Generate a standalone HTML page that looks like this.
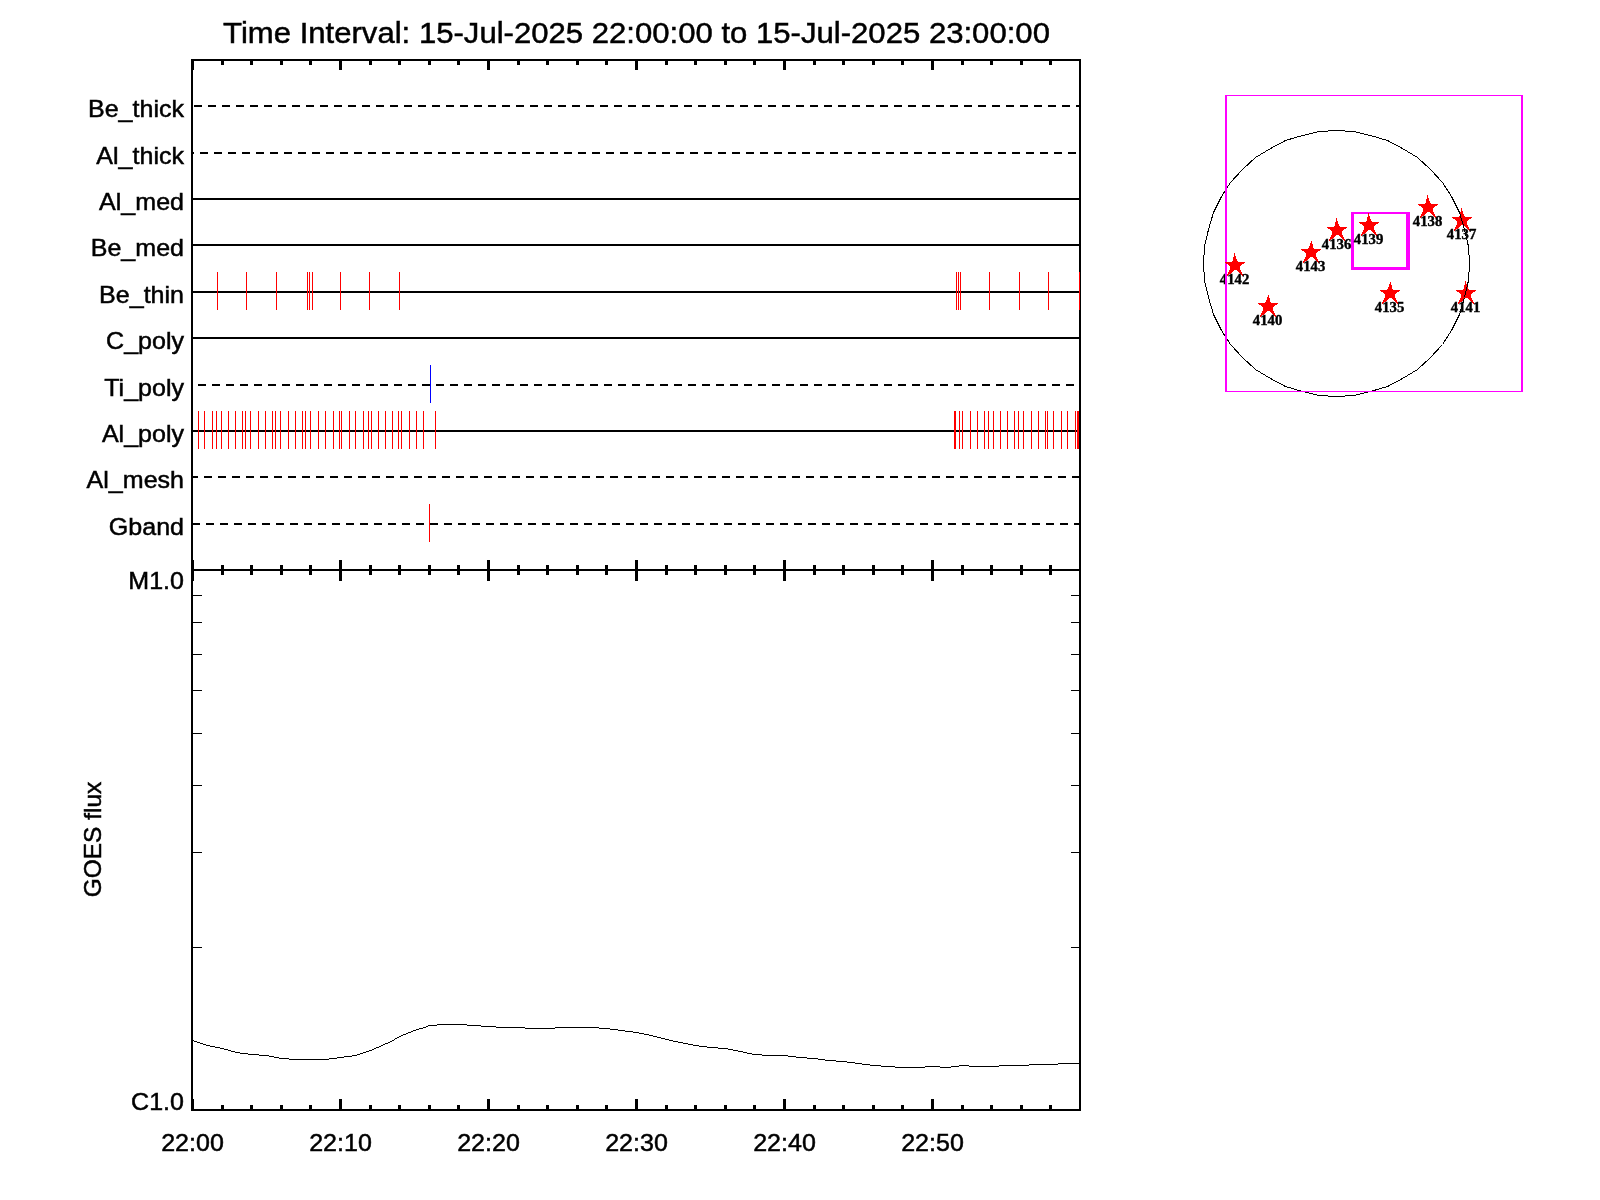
<!DOCTYPE html>
<html><head><meta charset="utf-8"><title>plot</title>
<style>
html,body{margin:0;padding:0;background:#fff;overflow:hidden;}
svg{display:block;will-change:transform;}
text{font-family:"Liberation Sans",sans-serif;fill:#000;}
</style></head>
<body>
<svg width="1600" height="1200" viewBox="0 0 1600 1200">
<rect width="1600" height="1200" fill="#fff"/>
<g shape-rendering="crispEdges">
<path d="M194 106H202M208 106H216M222 106H230M236 106H244M250 106H258M264 106H272M278 106H286M292 106H300M306 106H314M320 106H328M334 106H342M348 106H356M362 106H370M376 106H384M390 106H398M404 106H412M418 106H426M432 106H440M446 106H454M460 106H468M474 106H482M488 106H496M502 106H510M516 106H524M530 106H538M544 106H552M558 106H566M572 106H580M586 106H594M600 106H608M614 106H622M628 106H636M642 106H650M656 106H664M670 106H678M684 106H692M698 106H706M712 106H720M726 106H734M740 106H748M754 106H762M768 106H776M782 106H790M796 106H804M810 106H818M824 106H832M838 106H846M852 106H860M866 106H874M880 106H888M894 106H902M908 106H916M922 106H930M936 106H944M950 106H958M964 106H972M978 106H986M992 106H1000M1006 106H1014M1020 106H1028M1034 106H1042M1048 106H1056M1062 106H1070M1076 106H1079M193 153H194M200 153H208M214 153H222M228 153H236M242 153H250M256 153H264M270 153H278M284 153H292M298 153H306M312 153H320M326 153H334M340 153H348M354 153H362M368 153H376M382 153H390M396 153H404M410 153H418M424 153H432M438 153H446M452 153H460M466 153H474M480 153H488M494 153H502M508 153H516M522 153H530M536 153H544M550 153H558M564 153H572M578 153H586M592 153H600M606 153H614M620 153H628M634 153H642M648 153H656M662 153H670M676 153H684M690 153H698M704 153H712M718 153H726M732 153H740M746 153H754M760 153H768M774 153H782M788 153H796M802 153H810M816 153H824M830 153H838M844 153H852M858 153H866M872 153H880M886 153H894M900 153H908M914 153H922M928 153H936M942 153H950M956 153H964M970 153H978M984 153H992M998 153H1006M1012 153H1020M1026 153H1034M1040 153H1048M1054 153H1062M1068 153H1076M193 199H1079M193 245H1079M193 292H1079M193 338H1079M198 385H206M212 385H220M226 385H234M240 385H248M254 385H262M268 385H276M282 385H290M296 385H304M310 385H318M324 385H332M338 385H346M352 385H360M366 385H374M380 385H388M394 385H402M408 385H416M422 385H430M436 385H444M450 385H458M464 385H472M478 385H486M492 385H500M506 385H514M520 385H528M534 385H542M548 385H556M562 385H570M576 385H584M590 385H598M604 385H612M618 385H626M632 385H640M646 385H654M660 385H668M674 385H682M688 385H696M702 385H710M716 385H724M730 385H738M744 385H752M758 385H766M772 385H780M786 385H794M800 385H808M814 385H822M828 385H836M842 385H850M856 385H864M870 385H878M884 385H892M898 385H906M912 385H920M926 385H934M940 385H948M954 385H962M968 385H976M982 385H990M996 385H1004M1010 385H1018M1024 385H1032M1038 385H1046M1052 385H1060M1066 385H1074M193 431H1079M193 477H198M204 477H212M218 477H226M232 477H240M246 477H254M260 477H268M274 477H282M288 477H296M302 477H310M316 477H324M330 477H338M344 477H352M358 477H366M372 477H380M386 477H394M400 477H408M414 477H422M428 477H436M442 477H450M456 477H464M470 477H478M484 477H492M498 477H506M512 477H520M526 477H534M540 477H548M554 477H562M568 477H576M582 477H590M596 477H604M610 477H618M624 477H632M638 477H646M652 477H660M666 477H674M680 477H688M694 477H702M708 477H716M722 477H730M736 477H744M750 477H758M764 477H772M778 477H786M792 477H800M806 477H814M820 477H828M834 477H842M848 477H856M862 477H870M876 477H884M890 477H898M904 477H912M918 477H926M932 477H940M946 477H954M960 477H968M974 477H982M988 477H996M1002 477H1010M1016 477H1024M1030 477H1038M1044 477H1052M1058 477H1066M1072 477H1079M193 524H200M206 524H214M220 524H228M234 524H242M248 524H256M262 524H270M276 524H284M290 524H298M304 524H312M318 524H326M332 524H340M346 524H354M360 524H368M374 524H382M388 524H396M402 524H410M416 524H424M430 524H438M444 524H452M458 524H466M472 524H480M486 524H494M500 524H508M514 524H522M528 524H536M542 524H550M556 524H564M570 524H578M584 524H592M598 524H606M612 524H620M626 524H634M640 524H648M654 524H662M668 524H676M682 524H690M696 524H704M710 524H718M724 524H732M738 524H746M752 524H760M766 524H774M780 524H788M794 524H802M808 524H816M822 524H830M836 524H844M850 524H858M864 524H872M878 524H886M892 524H900M906 524H914M920 524H928M934 524H942M948 524H956M962 524H970M976 524H984M990 524H998M1004 524H1012M1018 524H1026M1032 524H1040M1046 524H1054M1060 524H1068M1074 524H1079" stroke="#000" stroke-width="2" fill="none"/>
<path d="M217.5 272v38M246.5 272v38M276.5 272v38M307.5 272v38M309.5 272v38M312.5 272v38M340.5 272v38M369.5 272v38M399.5 272v38M956.5 272v38M958.5 272v38M960.5 272v38M989.5 272v38M1019.5 272v38M1048.5 272v38" stroke="#f00" stroke-width="1" fill="none"/>
<path d="M198.5 411v38M204.5 411v38M212.5 411v38M216.5 411v38M221.5 411v38M228.5 411v38M235.5 411v38M242.5 411v38M245.5 411v38M250.5 411v38M258.5 411v38M265.5 411v38M272.5 411v38M275.5 411v38M280.5 411v38M288.5 411v38M295.5 411v38M302.5 411v38M305.5 411v38M310.5 411v38M318.5 411v38M325.5 411v38M333.5 411v38M339.5 411v38M341.5 411v38M349.5 411v38M355.5 411v38M363.5 411v38M368.5 411v38M371.5 411v38M378.5 411v38M385.5 411v38M392.5 411v38M398.5 411v38M401.5 411v38M409.5 411v38M416.5 411v38M423.5 411v38M435.5 411v38M954.5 411v38M955.5 411v38M959.5 411v38M962.5 411v38M970.5 411v38M977.5 411v38M984.5 411v38M988.5 411v38M993.5 411v38M1000.5 411v38M1007.5 411v38M1014.5 411v38M1018.5 411v38M1023.5 411v38M1031.5 411v38M1038.5 411v38M1045.5 411v38M1047.5 411v38M1053.5 411v38M1061.5 411v38M1067.5 411v38M1075.5 411v38M1077.5 411v38M1078.5 411v38" stroke="#f00" stroke-width="1" fill="none"/>
<path d="M429.5 504v38" stroke="#f00" stroke-width="1" fill="none"/>
<path d="M430.5 365v38" stroke="#00f" stroke-width="1" fill="none"/>
<path d="M191 60H1081M191 570H1081M191 1110H1081M192 59V1111M1080 59V1111" stroke="#000" stroke-width="2" fill="none"/>
<path d="M222.5 61v4M222.5 569v-4M222.5 571v4M222.5 1109v-4M251.5 61v4M251.5 569v-4M251.5 571v4M251.5 1109v-4M281.5 61v4M281.5 569v-4M281.5 571v4M281.5 1109v-4M310.5 61v4M310.5 569v-4M310.5 571v4M310.5 1109v-4M340.5 61v9M340.5 569v-9M340.5 571v10M340.5 1109v-10M370.5 61v4M370.5 569v-4M370.5 571v4M370.5 1109v-4M399.5 61v4M399.5 569v-4M399.5 571v4M399.5 1109v-4M429.5 61v4M429.5 569v-4M429.5 571v4M429.5 1109v-4M458.5 61v4M458.5 569v-4M458.5 571v4M458.5 1109v-4M488.5 61v9M488.5 569v-9M488.5 571v10M488.5 1109v-10M518.5 61v4M518.5 569v-4M518.5 571v4M518.5 1109v-4M547.5 61v4M547.5 569v-4M547.5 571v4M547.5 1109v-4M577.5 61v4M577.5 569v-4M577.5 571v4M577.5 1109v-4M606.5 61v4M606.5 569v-4M606.5 571v4M606.5 1109v-4M636.5 61v9M636.5 569v-9M636.5 571v10M636.5 1109v-10M666.5 61v4M666.5 569v-4M666.5 571v4M666.5 1109v-4M695.5 61v4M695.5 569v-4M695.5 571v4M695.5 1109v-4M725.5 61v4M725.5 569v-4M725.5 571v4M725.5 1109v-4M754.5 61v4M754.5 569v-4M754.5 571v4M754.5 1109v-4M784.5 61v9M784.5 569v-9M784.5 571v10M784.5 1109v-10M814.5 61v4M814.5 569v-4M814.5 571v4M814.5 1109v-4M843.5 61v4M843.5 569v-4M843.5 571v4M843.5 1109v-4M873.5 61v4M873.5 569v-4M873.5 571v4M873.5 1109v-4M902.5 61v4M902.5 569v-4M902.5 571v4M902.5 1109v-4M932.5 61v9M932.5 569v-9M932.5 571v10M932.5 1109v-10M962.5 61v4M962.5 569v-4M962.5 571v4M962.5 1109v-4M991.5 61v4M991.5 569v-4M991.5 571v4M991.5 1109v-4M1021.5 61v4M1021.5 569v-4M1021.5 571v4M1021.5 1109v-4M1050.5 61v4M1050.5 569v-4M1050.5 571v4M1050.5 1109v-4" stroke="#000" stroke-width="3" fill="none"/>
<path d="M1079.5 272v38" stroke="#f00" stroke-width="1" fill="none"/>
<path d="M193.5 61v9M193.5 560v9M193.5 571v10M193.5 1099v10" stroke="#000" stroke-width="1" fill="none"/>
<path d="M193 595.5H202M1071 595.5H1079M193 622.5H202M1071 622.5H1079M193 654.5H202M1071 654.5H1079M193 690.5H202M1071 690.5H1079M193 733.5H202M1071 733.5H1079M193 785.5H202M1071 785.5H1079M193 852.5H202M1071 852.5H1079M193 947.5H202M1071 947.5H1079" stroke="#000" stroke-width="1" fill="none"/>
<path d="M193 1040.5H194M194 1041.5H197M197 1042.5H200M200 1043.5H203M203 1044.5H206M206 1045.5H210M210 1046.5H215M215 1047.5H220M220 1048.5H224M224 1049.5H228M228 1050.5H231M231 1051.5H235M235 1052.5H240M240 1053.5H248M248 1054.5H259M259 1055.5H269M269 1056.5H274M274 1057.5H279M279 1058.5H289M289 1059.5H329M329 1058.5H337M337 1057.5H344M344 1056.5H352M352 1055.5H357M357 1054.5H360M360 1053.5H363M363 1052.5H366M366 1051.5H369M369 1050.5H372M372 1049.5H374M374 1048.5H376M376 1047.5H379M379 1046.5H381M381 1045.5H383M383 1044.5H385M385 1043.5H388M388 1042.5H390M390 1041.5H392M392 1040.5H394M394 1039.5H395M395 1038.5H397M397 1037.5H399M399 1036.5H401M401 1035.5H403M403 1034.5H406M406 1033.5H408M408 1032.5H411M411 1031.5H413M413 1030.5H416M416 1029.5H419M419 1028.5H423M423 1027.5H426M426 1026.5H428M428 1025.5H437M437 1024.5H467M467 1025.5H481M481 1026.5H496M496 1027.5H525M525 1028.5H555M555 1027.5H599M599 1028.5H610M610 1029.5H618M618 1030.5H625M625 1031.5H633M633 1032.5H639M639 1033.5H644M644 1034.5H649M649 1035.5H653M653 1036.5H657M657 1037.5H661M661 1038.5H665M665 1039.5H669M669 1040.5H673M673 1041.5H678M678 1042.5H683M683 1043.5H688M688 1044.5H693M693 1045.5H699M699 1046.5H707M707 1047.5H718M718 1048.5H728M728 1049.5H733M733 1050.5H738M738 1051.5H743M743 1052.5H747M747 1053.5H752M752 1054.5H762M762 1055.5H788M788 1056.5H796M796 1057.5H807M807 1058.5H818M818 1059.5H825M825 1060.5H836M836 1061.5H847M847 1062.5H855M855 1063.5H862M862 1064.5H870M870 1065.5H881M881 1066.5H895M895 1067.5H925M925 1066.5H940M940 1067.5H951M951 1066.5H959M959 1065.5H969M969 1066.5H999M999 1065.5H1029M1029 1064.5H1058M1058 1063.5H1079" stroke="#000" stroke-width="1" fill="none"/>
<text x="636.5" y="43" font-size="30" text-anchor="middle" stroke="#000" stroke-width="0.5" transform="translate(636.5 0) scale(1.037 1) translate(-636.5 0)">Time Interval: 15-Jul-2025 22:00:00 to 15-Jul-2025 23:00:00</text>
<text x="184" y="117" font-size="24.5" text-anchor="end" stroke="#000" stroke-width="0.5" transform="translate(184 0) scale(1.022 1) translate(-184 0)">Be_thick</text>
<text x="184" y="164" font-size="24.5" text-anchor="end" stroke="#000" stroke-width="0.5" transform="translate(184 0) scale(1.022 1) translate(-184 0)">Al_thick</text>
<text x="184" y="210" font-size="24.5" text-anchor="end" stroke="#000" stroke-width="0.5" transform="translate(184 0) scale(1.022 1) translate(-184 0)">Al_med</text>
<text x="184" y="256" font-size="24.5" text-anchor="end" stroke="#000" stroke-width="0.5" transform="translate(184 0) scale(1.022 1) translate(-184 0)">Be_med</text>
<text x="184" y="303" font-size="24.5" text-anchor="end" stroke="#000" stroke-width="0.5" transform="translate(184 0) scale(1.022 1) translate(-184 0)">Be_thin</text>
<text x="184" y="349" font-size="24.5" text-anchor="end" stroke="#000" stroke-width="0.5" transform="translate(184 0) scale(1.022 1) translate(-184 0)">C_poly</text>
<text x="184" y="396" font-size="24.5" text-anchor="end" stroke="#000" stroke-width="0.5" transform="translate(184 0) scale(1.022 1) translate(-184 0)">Ti_poly</text>
<text x="184" y="442" font-size="24.5" text-anchor="end" stroke="#000" stroke-width="0.5" transform="translate(184 0) scale(1.022 1) translate(-184 0)">Al_poly</text>
<text x="184" y="488" font-size="24.5" text-anchor="end" stroke="#000" stroke-width="0.5" transform="translate(184 0) scale(1.022 1) translate(-184 0)">Al_mesh</text>
<text x="184" y="535" font-size="24.5" text-anchor="end" stroke="#000" stroke-width="0.5" transform="translate(184 0) scale(1.022 1) translate(-184 0)">Gband</text>
<text x="184" y="589" font-size="24.5" text-anchor="end" stroke="#000" stroke-width="0.5" transform="translate(184 0) scale(1.022 1) translate(-184 0)">M1.0</text>
<text x="184" y="1110" font-size="24.5" text-anchor="end" stroke="#000" stroke-width="0.5" transform="translate(184 0) scale(1.022 1) translate(-184 0)">C1.0</text>
<text x="192.5" y="1151" font-size="24.5" text-anchor="middle" stroke="#000" stroke-width="0.5" transform="translate(192.5 0) scale(1.022 1) translate(-192.5 0)">22:00</text>
<text x="340.5" y="1151" font-size="24.5" text-anchor="middle" stroke="#000" stroke-width="0.5" transform="translate(340.5 0) scale(1.022 1) translate(-340.5 0)">22:10</text>
<text x="488.5" y="1151" font-size="24.5" text-anchor="middle" stroke="#000" stroke-width="0.5" transform="translate(488.5 0) scale(1.022 1) translate(-488.5 0)">22:20</text>
<text x="636.5" y="1151" font-size="24.5" text-anchor="middle" stroke="#000" stroke-width="0.5" transform="translate(636.5 0) scale(1.022 1) translate(-636.5 0)">22:30</text>
<text x="784.5" y="1151" font-size="24.5" text-anchor="middle" stroke="#000" stroke-width="0.5" transform="translate(784.5 0) scale(1.022 1) translate(-784.5 0)">22:40</text>
<text x="932.5" y="1151" font-size="24.5" text-anchor="middle" stroke="#000" stroke-width="0.5" transform="translate(932.5 0) scale(1.022 1) translate(-932.5 0)">22:50</text>
<text x="0" y="0" font-size="24.5" text-anchor="middle" stroke="#000" stroke-width="0.5" transform="translate(101 839.5) rotate(-90)">GOES flux</text>
<path d="M1225 95.5H1523M1225 391.5H1523" stroke="#f0f" stroke-width="1" fill="none"/>
<path d="M1226 95V392M1522 95V392" stroke="#f0f" stroke-width="2" fill="none"/>
<rect x="1351" y="212" width="59" height="2" fill="#f0f"/>
<rect x="1351" y="267" width="59" height="3" fill="#f0f"/>
<rect x="1351" y="212" width="3" height="58" fill="#f0f"/>
<rect x="1406" y="212" width="4" height="58" fill="#f0f"/>
<path d="M1234 253.5H1235M1234 254.5H1235M1234 255.5H1235M1234 256.5H1236M1233 257.5H1236M1233 258.5H1236M1233 259.5H1237M1233 260.5H1237M1232 261.5H1238M1225 262.5H1245M1226 263.5H1244M1228 264.5H1242M1229 265.5H1241M1230 266.5H1240M1230 267.5H1240M1230 268.5H1240M1230 269.5H1240M1229 270.5H1234M1237 270.5H1241M1229 271.5H1233M1238 271.5H1241M1228 272.5H1232M1239 272.5H1242M1228 273.5H1231M1240 273.5H1242M1227 274.5H1229M1241 274.5H1243M1227 275.5H1228M1242 275.5H1243" stroke="#f00" stroke-width="1" fill="none"/>
<path d="M1268 295.5H1269M1268 296.5H1269M1267 297.5H1269M1267 298.5H1270M1267 299.5H1270M1266 300.5H1270M1266 301.5H1270M1265 302.5H1271M1258 303.5H1278M1259 304.5H1277M1261 305.5H1275M1262 306.5H1274M1263 307.5H1273M1263 308.5H1273M1263 309.5H1273M1263 310.5H1273M1262 311.5H1267M1270 311.5H1274M1262 312.5H1266M1271 312.5H1274M1261 313.5H1265M1272 313.5H1275M1261 314.5H1264M1273 314.5H1275M1260 315.5H1262M1274 315.5H1276M1260 316.5H1261M1275 316.5H1276" stroke="#f00" stroke-width="1" fill="none"/>
<path d="M1311 241.5H1312M1311 242.5H1312M1310 243.5H1312M1310 244.5H1313M1310 245.5H1313M1309 246.5H1313M1309 247.5H1313M1308 248.5H1314M1301 249.5H1321M1302 250.5H1320M1304 251.5H1318M1305 252.5H1317M1306 253.5H1316M1306 254.5H1316M1306 255.5H1316M1306 256.5H1316M1305 257.5H1310M1313 257.5H1317M1305 258.5H1309M1314 258.5H1317M1304 259.5H1308M1315 259.5H1318M1304 260.5H1307M1316 260.5H1318M1303 261.5H1305M1317 261.5H1319M1303 262.5H1304M1318 262.5H1319" stroke="#f00" stroke-width="1" fill="none"/>
<path d="M1336 218.5H1337M1336 219.5H1337M1336 220.5H1337M1336 221.5H1338M1335 222.5H1338M1335 223.5H1338M1335 224.5H1339M1335 225.5H1339M1334 226.5H1340M1327 227.5H1347M1328 228.5H1346M1330 229.5H1344M1331 230.5H1343M1332 231.5H1342M1332 232.5H1342M1332 233.5H1342M1332 234.5H1342M1331 235.5H1336M1339 235.5H1343M1331 236.5H1335M1340 236.5H1343M1330 237.5H1334M1341 237.5H1344M1330 238.5H1333M1342 238.5H1344M1329 239.5H1331M1343 239.5H1345M1329 240.5H1330M1344 240.5H1345" stroke="#f00" stroke-width="1" fill="none"/>
<path d="M1368 213.5H1369M1368 214.5H1369M1368 215.5H1369M1368 216.5H1370M1367 217.5H1370M1367 218.5H1370M1367 219.5H1371M1367 220.5H1371M1366 221.5H1372M1359 222.5H1379M1360 223.5H1378M1362 224.5H1376M1363 225.5H1375M1364 226.5H1374M1364 227.5H1374M1364 228.5H1374M1364 229.5H1374M1363 230.5H1368M1371 230.5H1375M1363 231.5H1367M1372 231.5H1375M1362 232.5H1366M1373 232.5H1376M1362 233.5H1365M1374 233.5H1376M1361 234.5H1363M1375 234.5H1377M1361 235.5H1362M1376 235.5H1377" stroke="#f00" stroke-width="1" fill="none"/>
<path d="M1427 195.5H1428M1427 196.5H1428M1427 197.5H1428M1427 198.5H1429M1426 199.5H1429M1426 200.5H1429M1426 201.5H1430M1426 202.5H1430M1425 203.5H1431M1418 204.5H1438M1419 205.5H1437M1421 206.5H1435M1422 207.5H1434M1423 208.5H1433M1423 209.5H1433M1423 210.5H1433M1423 211.5H1433M1422 212.5H1427M1430 212.5H1434M1422 213.5H1426M1431 213.5H1434M1421 214.5H1425M1432 214.5H1435M1421 215.5H1424M1433 215.5H1435M1420 216.5H1422M1434 216.5H1436M1420 217.5H1421M1435 217.5H1436" stroke="#f00" stroke-width="1" fill="none"/>
<path d="M1461 208.5H1462M1461 209.5H1462M1461 210.5H1462M1461 211.5H1463M1460 212.5H1463M1460 213.5H1463M1460 214.5H1464M1460 215.5H1464M1459 216.5H1465M1452 217.5H1472M1453 218.5H1471M1455 219.5H1469M1456 220.5H1468M1457 221.5H1467M1457 222.5H1467M1457 223.5H1467M1457 224.5H1467M1456 225.5H1461M1464 225.5H1468M1456 226.5H1460M1465 226.5H1468M1455 227.5H1459M1466 227.5H1469M1455 228.5H1458M1467 228.5H1469M1454 229.5H1456M1468 229.5H1470M1454 230.5H1455M1469 230.5H1470" stroke="#f00" stroke-width="1" fill="none"/>
<path d="M1390 282.5H1391M1390 283.5H1391M1389 284.5H1391M1389 285.5H1392M1389 286.5H1392M1388 287.5H1392M1388 288.5H1392M1387 289.5H1393M1380 290.5H1400M1381 291.5H1399M1383 292.5H1397M1384 293.5H1396M1385 294.5H1395M1385 295.5H1395M1385 296.5H1395M1385 297.5H1395M1384 298.5H1389M1392 298.5H1396M1384 299.5H1388M1393 299.5H1396M1383 300.5H1387M1394 300.5H1397M1383 301.5H1386M1395 301.5H1397M1382 302.5H1384M1396 302.5H1398M1382 303.5H1383M1397 303.5H1398" stroke="#f00" stroke-width="1" fill="none"/>
<path d="M1465 281.5H1466M1465 282.5H1466M1465 283.5H1466M1465 284.5H1467M1464 285.5H1467M1464 286.5H1467M1464 287.5H1468M1464 288.5H1468M1463 289.5H1469M1456 290.5H1476M1457 291.5H1475M1459 292.5H1473M1460 293.5H1472M1461 294.5H1471M1461 295.5H1471M1461 296.5H1471M1461 297.5H1471M1460 298.5H1465M1468 298.5H1472M1460 299.5H1464M1469 299.5H1472M1459 300.5H1463M1470 300.5H1473M1459 301.5H1462M1471 301.5H1473M1458 302.5H1460M1472 302.5H1474M1458 303.5H1459M1473 303.5H1474" stroke="#f00" stroke-width="1" fill="none"/>
<text x="0" y="0" font-size="13" font-weight="bold" text-anchor="middle" style="font-family:'Liberation Serif',serif" stroke="#000" stroke-width="0.35" textLength="29.5" lengthAdjust="spacingAndGlyphs" transform="translate(1234.5 284) scale(1 1.06)">4142</text>
<text x="0" y="0" font-size="13" font-weight="bold" text-anchor="middle" style="font-family:'Liberation Serif',serif" stroke="#000" stroke-width="0.35" textLength="29.5" lengthAdjust="spacingAndGlyphs" transform="translate(1267.5 325) scale(1 1.06)">4140</text>
<text x="0" y="0" font-size="13" font-weight="bold" text-anchor="middle" style="font-family:'Liberation Serif',serif" stroke="#000" stroke-width="0.35" textLength="29.5" lengthAdjust="spacingAndGlyphs" transform="translate(1310.5 271) scale(1 1.06)">4143</text>
<text x="0" y="0" font-size="13" font-weight="bold" text-anchor="middle" style="font-family:'Liberation Serif',serif" stroke="#000" stroke-width="0.35" textLength="29.5" lengthAdjust="spacingAndGlyphs" transform="translate(1336.5 249) scale(1 1.06)">4136</text>
<text x="0" y="0" font-size="13" font-weight="bold" text-anchor="middle" style="font-family:'Liberation Serif',serif" stroke="#000" stroke-width="0.35" textLength="29.5" lengthAdjust="spacingAndGlyphs" transform="translate(1368.5 244) scale(1 1.06)">4139</text>
<text x="0" y="0" font-size="13" font-weight="bold" text-anchor="middle" style="font-family:'Liberation Serif',serif" stroke="#000" stroke-width="0.35" textLength="29.5" lengthAdjust="spacingAndGlyphs" transform="translate(1427.5 226) scale(1 1.06)">4138</text>
<text x="0" y="0" font-size="13" font-weight="bold" text-anchor="middle" style="font-family:'Liberation Serif',serif" stroke="#000" stroke-width="0.35" textLength="29.5" lengthAdjust="spacingAndGlyphs" transform="translate(1461.5 239) scale(1 1.06)">4137</text>
<text x="0" y="0" font-size="13" font-weight="bold" text-anchor="middle" style="font-family:'Liberation Serif',serif" stroke="#000" stroke-width="0.35" textLength="29.5" lengthAdjust="spacingAndGlyphs" transform="translate(1389.5 312) scale(1 1.06)">4135</text>
<text x="0" y="0" font-size="13" font-weight="bold" text-anchor="middle" style="font-family:'Liberation Serif',serif" stroke="#000" stroke-width="0.35" textLength="29.5" lengthAdjust="spacingAndGlyphs" transform="translate(1465.5 312) scale(1 1.06)">4141</text>
<polygon points="1469.5,263.5 1468.5,246.5 1464.5,229.5 1459.5,212.5 1451.5,196.5 1442.5,182.5 1430.5,169.5 1417.5,157.5 1402.5,148.5 1387.5,140.5 1370.5,135.5 1353.5,131.5 1336.5,130.5 1319.5,131.5 1302.5,135.5 1285.5,140.5 1270.5,148.5 1255.5,157.5 1242.5,169.5 1230.5,182.5 1221.5,196.5 1213.5,212.5 1208.5,229.5 1204.5,246.5 1203.5,263.5 1204.5,280.5 1208.5,297.5 1213.5,314.5 1221.5,330.5 1230.5,344.5 1242.5,357.5 1255.5,369.5 1270.5,378.5 1285.5,386.5 1302.5,391.5 1319.5,395.5 1336.5,396.5 1353.5,395.5 1370.5,391.5 1387.5,386.5 1402.5,378.5 1417.5,369.5 1430.5,357.5 1442.5,344.5 1451.5,330.5 1459.5,314.5 1464.5,297.5 1468.5,280.5" stroke="#000" stroke-width="1" fill="none"/>
<path d="M1226 95V255M1226 271V392" stroke="#f0f" stroke-width="2" fill="none"/>
<path d="M1225 391.5H1523" stroke="#f0f" stroke-width="1" fill="none"/>
</g>
</svg>
</body></html>
